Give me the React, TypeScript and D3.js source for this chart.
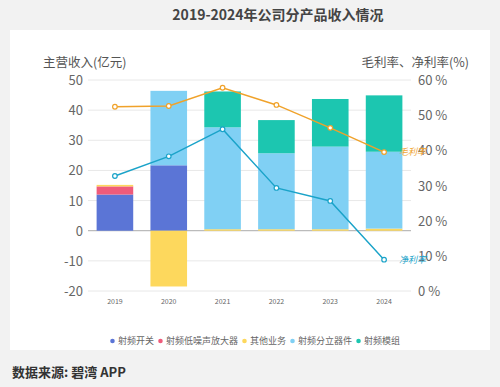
import React, { useRef, useEffect } from 'react';
import * as d3 from 'd3';

const years = ['2019', '2020', '2021', '2022', '2023', '2024'];
const seriesNames = ['射频开关', '射频低噪声放大器', '其他业务', '射频分立器件', '射频模组'];
const rfSwitch = [12.0, 21.7, 0, 0, 0, 0];
const rfLna = [2.7, 0, 0, 0, 0, 0];
const otherBiz = [0.5, -18.5, 0.5, 0.5, 0.5, 0.7];
const rfDiscrete = [0, 24.7, 33.8, 25.2, 27.4, 25.5];
const rfModule = [0, 0, 11.9, 11.0, 15.8, 18.7];
const grossMargin = [52.4, 52.6, 57.8, 52.9, 46.4, 39.5];
const netMargin = [32.7, 38.3, 46.0, 29.3, 25.6, 8.9];
const leftTicks = [50, 40, 30, 20, 10, 0, -10, -20];
const rightTicks = [60, 50, 40, 30, 20, 10, 0];

const colors = ['#5b75d6', '#ef5b7b', '#fdd85d', '#80d0f4', '#1cc6b0'];
const grossColor = '#f0a22a';
const netColor = '#1aa3c9';

function App() {
  const svgRef = useRef<SVGSVGElement>(null);

  useEffect(() => {
    const svg = d3.select(svgRef.current);
    svg.selectAll('*').remove();
    const font = '"Noto Sans CJK SC", "Noto Sans", sans-serif';

    svg.append('rect').attr('width', 500).attr('height', 387).attr('fill', '#f2f2f2');
    svg.append('rect').attr('x', 10).attr('y', 30).attr('width', 480).attr('height', 320).attr('fill', '#fff');

    svg.append('text')
      .attr('x', 278).attr('y', 20)
      .attr('text-anchor', 'middle')
      .style('font-family', font).style('font-size', '14px').style('font-weight', 'bold')
      .attr('fill', '#444')
      .text('2019-2024年公司分产品收入情况');

    svg.append('text')
      .attr('x', 12).attr('y', 377)
      .style('font-family', font).style('font-size', '13px').style('font-weight', 'bold')
      .attr('fill', '#333')
      .text('数据来源: 碧湾 APP');

    const left = 88, right = 411, top = 80, bottom = 291;

    const x = d3.scaleBand().domain(years).range([left, right]).paddingInner(0.32).paddingOuter(0.16);
    const y = d3.scaleLinear().domain([-20, 50]).range([bottom, top]);
    const y2 = d3.scaleLinear().domain([0, 60]).range([bottom, top]);

    // grid
    svg.append('g').selectAll('line').data(leftTicks).enter().append('line')
      .attr('x1', left).attr('x2', right)
      .attr('y1', d => y(d)).attr('y2', d => y(d))
      .attr('stroke', d => d === 0 ? '#aaa' : '#e8e8e8').attr('stroke-width', 1);

    // left ticks
    svg.append('g').selectAll('text').data(leftTicks).enter().append('text')
      .attr('x', 83).attr('y', d => y(d) + 5)
      .attr('text-anchor', 'end')
      .style('font-family', font).style('font-size', '13px')
      .attr('fill', '#666')
      .text(d => d);

    svg.append('g').selectAll('text').data(rightTicks).enter().append('text')
      .attr('x', 418).attr('y', d => y2(d) + 5)
      .style('font-family', font).style('font-size', '13px')
      .attr('fill', '#666')
      .text(d => `${d} %`);

    svg.append('text')
      .attr('x', 43).attr('y', 67)
      .style('font-family', font).style('font-size', '12.5px').attr('fill', '#555')
      .text('主营收入(亿元)');
    svg.append('text')
      .attr('x', 469).attr('y', 67).attr('text-anchor', 'end')
      .style('font-family', font).style('font-size', '12.5px').attr('fill', '#555')
      .text('毛利率、净利率(%)');

    // x labels
    svg.append('g').selectAll('text').data(years).enter().append('text')
      .attr('x', d => x(d)! + x.bandwidth() / 2).attr('y', 304)
      .attr('text-anchor', 'middle')
      .style('font-family', font).style('font-size', '7px').attr('fill', '#666')
      .text(d => d);

    // stacked bars (positive/negative)
    const series = [rfSwitch, rfLna, otherBiz, rfDiscrete, rfModule];
    years.forEach((yr, i) => {
      let pos = 0, neg = 0;
      series.forEach((s, k) => {
        const v = s[i];
        if (!v) return;
        let y0: number, y1: number;
        if (v > 0) { y0 = pos; y1 = pos + v; pos = y1; } else { y0 = neg + v; y1 = neg; neg = y0; }
        svg.append('rect')
          .attr('x', x(yr)!).attr('width', x.bandwidth())
          .attr('y', y(y1)).attr('height', y(y0) - y(y1))
          .attr('fill', colors[k]);
      });
    });

    // lines
    const drawLine = (vals: number[], color: string, label: string) => {
      const line = d3.line<number>()
        .x((d, i) => x(years[i])! + x.bandwidth() / 2)
        .y(d => y2(d));
      svg.append('path').datum(vals)
        .attr('fill', 'none').attr('stroke', color).attr('stroke-width', 1.4)
        .attr('d', line);
      svg.append('g').selectAll('circle').data(vals).enter().append('circle')
        .attr('cx', (d, i) => x(years[i])! + x.bandwidth() / 2)
        .attr('cy', d => y2(d)).attr('r', 2.3)
        .attr('fill', '#fff').attr('stroke', color).attr('stroke-width', 1.2);
      const last = vals[vals.length - 1];
      svg.append('text')
        .attr('x', x(years[5])! + x.bandwidth() / 2 + 15).attr('y', y2(last) + 3)
        .style('font-family', font).style('font-size', '9px').style('font-style', 'italic')
        .attr('fill', color)
        .text(label);
    };
    drawLine(grossMargin, grossColor, '毛利率');
    drawLine(netMargin, netColor, '净利率');

    // legend
    const legend = svg.append('g');
    let lx = 0;
    seriesNames.forEach((n, k) => {
      const g = legend.append('g');
      g.append('circle').attr('cx', 2.5).attr('cy', 0).attr('r', 2.3).attr('fill', colors[k]);
      const t = g.append('text').attr('x', 8).attr('y', 3.2)
        .style('font-family', font).style('font-size', '9px').attr('fill', '#666').text(n);
      const w = 8 + (t.node() as SVGTextElement).getComputedTextLength() + 4;
      g.attr('transform', `translate(${lx},0)`);
      lx += w;
    });
    legend.attr('transform', `translate(${255 - (lx - 4) / 2},341)`);
  }, []);

  return <svg ref={svgRef} width={500} height={387} style={{ position: 'absolute', left: 0, top: 0 }} />;
}

export default App;
